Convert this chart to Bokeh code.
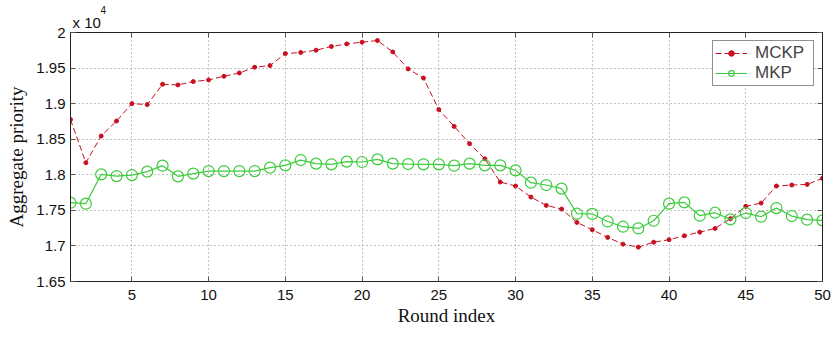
from bokeh.plotting import figure
from bokeh.models import (LinearAxis, FixedTicker, Title, Legend, LegendItem,
                          Range1d, ColumnDataSource, CustomJSTickFormatter)
from bokeh.embed import file_html
from bokeh.resources import INLINE

rounds = list(range(1, 51))
mckp = [1.8776, 1.8170, 1.8545, 1.8756, 1.9000, 1.8987, 1.9272, 1.9263, 1.9310, 1.9333,
        1.9385, 1.9431, 1.9512, 1.9535, 1.9704, 1.9719, 1.9751, 1.9803, 1.9840, 1.9864,
        1.9887, 1.9727, 1.9488, 1.9360, 1.8916, 1.8680, 1.8438, 1.8224, 1.7898, 1.7842,
        1.7687, 1.7570, 1.7518, 1.7330, 1.7228, 1.7120, 1.7025, 1.6983, 1.7053, 1.7087,
        1.7143, 1.7194, 1.7246, 1.7383, 1.7556, 1.7602, 1.7842, 1.7856, 1.7865, 1.7950]
mkp = [1.7608, 1.7594, 1.8006, 1.7982, 1.7996, 1.8044, 1.8128, 1.7978, 1.8016, 1.8052,
       1.8052, 1.8052, 1.8052, 1.8100, 1.8133, 1.8207, 1.8157, 1.8147, 1.8185, 1.8180,
       1.8217, 1.8157, 1.8151, 1.8147, 1.8147, 1.8128, 1.8157, 1.8133, 1.8133, 1.8062,
       1.7889, 1.7856, 1.7805, 1.7453, 1.7450, 1.7344, 1.7270, 1.7246, 1.7354, 1.7594,
       1.7612, 1.7425, 1.7467, 1.7373, 1.7462, 1.7411, 1.7532, 1.7420, 1.7369, 1.7359]

x_ticks = [5, 10, 15, 20, 25, 30, 35, 40, 45, 50]
y_ticks = [1.65, 1.70, 1.75, 1.80, 1.85, 1.90, 1.95, 2.00]
y_tick_labels = ["1.65", "1.7", "1.75", "1.8", "1.85", "1.9", "1.95", "2"]
scale_text = "x 10"
scale_exp = "4"

src = ColumnDataSource(dict(x=rounds, mckp=mckp, mkp=mkp))

p = figure(width=833, height=337, output_backend="svg", toolbar_location=None,
           x_range=Range1d(1, 50), y_range=Range1d(1.65, 2.0),
           x_axis_label="Round index", y_axis_label="Aggregate priority")
p.min_border_left = 70
p.min_border_right = 11
p.min_border_top = 32
p.min_border_bottom = 56
p.background_fill_color = "white"
p.border_fill_color = "white"
p.outline_line_color = "#222222"
p.outline_line_width = 1

tick_font = "Liberation Sans"
for ax in (p.xaxis[0], p.yaxis[0]):
    ax.major_tick_in = 5
    ax.major_tick_out = 0
    ax.minor_tick_line_color = None
    ax.axis_line_color = "#222222"
    ax.major_tick_line_color = "#555555"
    ax.major_label_text_font = tick_font
    ax.major_label_text_font_size = "15px"
    ax.major_label_text_color = "#111111"
    ax.axis_label_text_font = "Liberation Serif"
    ax.axis_label_text_font_size = "19px"
    ax.axis_label_text_font_style = "normal"
    ax.axis_label_text_color = "#111111"

p.xaxis[0].ticker = FixedTicker(ticks=x_ticks)
p.yaxis[0].ticker = FixedTicker(ticks=y_ticks)
p.yaxis[0].major_label_overrides = {t: l for t, l in zip(y_ticks, y_tick_labels)}
p.xaxis[0].major_label_standoff = 8
p.yaxis[0].major_label_standoff = 5
p.xaxis[0].axis_label_standoff = 2
p.yaxis[0].axis_label_standoff = 6

for side, ticks in (("right", y_ticks), ("above", x_ticks)):
    ax = LinearAxis(ticker=FixedTicker(ticks=ticks),
                    formatter=CustomJSTickFormatter(code="return ''"))
    ax.major_tick_in = 5
    ax.major_tick_out = 0
    ax.minor_tick_line_color = None
    ax.major_label_text_font_size = "0px"
    ax.major_label_text_color = None
    ax.major_label_standoff = 0
    ax.axis_line_color = "#222222"
    ax.major_tick_line_color = "#555555"
    p.add_layout(ax, side)

p.xgrid.ticker = FixedTicker(ticks=x_ticks)
p.ygrid.ticker = FixedTicker(ticks=y_ticks)
for g in (p.xgrid[0], p.ygrid[0]):
    g.grid_line_color = "#888888"
    g.grid_line_dash = "1 3"
    g.grid_line_width = 1

red = "#c81020"
green = "#3ccc3c"
r1 = p.line("x", "mckp", source=src, line_color=red, line_dash="6 3", line_width=1)
r1m = p.scatter("x", "mckp", source=src, marker="circle", size=4,
                fill_color=red, line_color=red)
r2 = p.line("x", "mkp", source=src, line_color=green, line_width=1.2)
r2m = p.scatter("x", "mkp", source=src, marker="circle", size=11,
                fill_color=None, line_color=green, line_width=1.2)

legend = Legend(items=[LegendItem(label="MCKP", renderers=[r1, r1m]),
                       LegendItem(label="MKP", renderers=[r2, r2m])],
                location="top_right")
legend.label_text_font = tick_font
legend.label_text_font_size = "17px"
legend.label_text_line_height = 1.0
legend.border_line_color = "#222222"
legend.border_line_width = 1
legend.glyph_width = 32
legend.glyph_height = 14
legend.label_height = 14
legend.label_width = 56
legend.label_standoff = 8
legend.spacing = 0
legend.padding = 2
legend.margin = 8
p.add_layout(legend)

t1 = Title(text=scale_text, align="left", offset=2, standoff=3,
           text_font=tick_font, text_font_size="15px", text_font_style="normal",
           text_color="#111111")
t2 = Title(text=scale_exp, align="left", offset=30, standoff=-6,
           text_font=tick_font, text_font_size="10px", text_font_style="normal",
           text_color="#111111")
p.add_layout(t1, "above")
p.add_layout(t2, "above")

open("out.html", "w").write(file_html(p, INLINE))
